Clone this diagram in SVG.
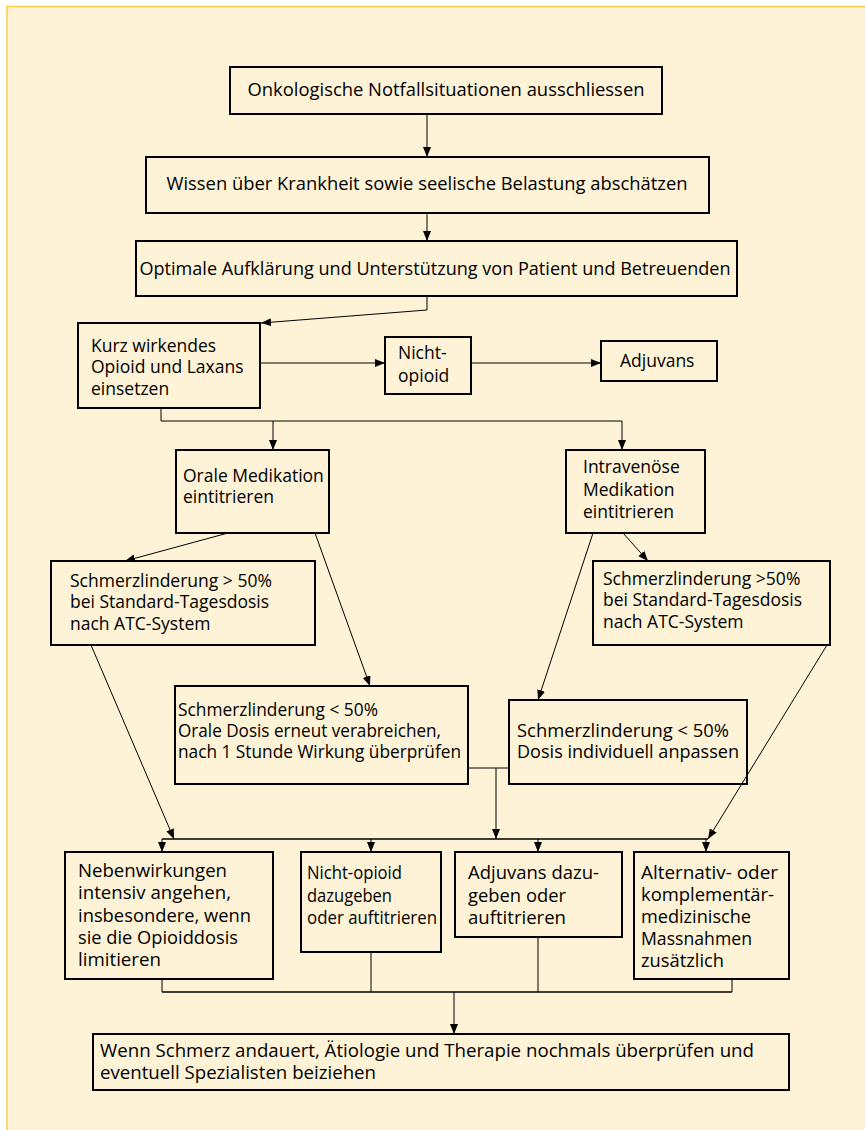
<svg xmlns="http://www.w3.org/2000/svg" width="865" height="1130" viewBox="0 0 865 1130">
<style>
.box{fill:none;stroke:#000;stroke-width:2}
.ln{fill:none;stroke:#000;stroke-width:1}
.bar{fill:none;stroke:#000;stroke-width:1.5}
.t{font-family:"Open Sans","Noto Sans","DejaVu Sans",sans-serif;font-size:17.5px;fill:#000}
.c{font-family:"Open Sans","Noto Sans","DejaVu Sans",sans-serif;font-size:17.5px;fill:#000}
.m{text-anchor:middle}
</style>
<defs>
<marker id="ah" markerUnits="userSpaceOnUse" markerWidth="11" markerHeight="9" refX="10" refY="4" orient="auto">
<path d="M0,0 L10,4 L0,8 z" fill="#000"/>
</marker>
</defs>
<rect x="0" y="0" width="865" height="1130" fill="#ffffff"/>
<rect x="7" y="6" width="858" height="1124" fill="#FEF3D7"/>
<line x1="6" y1="6.5" x2="865" y2="6.5" stroke="#F8CE46" stroke-width="1.5"/>
<line x1="7" y1="6" x2="7" y2="1130" stroke="#F8CE46" stroke-width="1.5"/>

<g id="connectors">
<line class="ln" x1="427" y1="114" x2="427" y2="157" marker-end="url(#ah)"/>
<line class="ln" x1="427" y1="213" x2="427" y2="241" marker-end="url(#ah)"/>
<polyline class="ln" points="427,296 427,310 261,323" marker-end="url(#ah)"/>
<line class="ln" x1="260" y1="363" x2="385" y2="363" marker-end="url(#ah)"/>
<line class="ln" x1="471" y1="363" x2="601" y2="363" marker-end="url(#ah)"/>
<polyline class="ln" points="161,408 161,421 622,421 622,450" marker-end="url(#ah)"/>
<line class="ln" x1="273" y1="421" x2="273" y2="450" marker-end="url(#ah)"/>
<line class="ln" x1="228" y1="533" x2="125" y2="561" marker-end="url(#ah)"/>
<line class="ln" x1="315" y1="533" x2="370" y2="686" marker-end="url(#ah)"/>
<line class="ln" x1="623" y1="533" x2="648" y2="561" marker-end="url(#ah)"/>
<line class="ln" x1="593" y1="533" x2="538" y2="700" marker-end="url(#ah)"/>
<line class="ln" x1="91" y1="645" x2="174" y2="839" marker-end="url(#ah)"/>
<line class="ln" x1="827" y1="645" x2="708" y2="839" marker-end="url(#ah)"/>
<line class="ln" x1="468" y1="768" x2="509" y2="768"/>
<line class="ln" x1="496" y1="768" x2="496" y2="839" marker-end="url(#ah)"/>
<line class="bar" x1="162" y1="839" x2="708" y2="839"/>
<line class="ln" x1="162" y1="839" x2="162" y2="852" marker-end="url(#ah)"/>
<line class="ln" x1="371" y1="839" x2="371" y2="852" marker-end="url(#ah)"/>
<line class="ln" x1="538" y1="839" x2="538" y2="852" marker-end="url(#ah)"/>
<line class="ln" x1="706" y1="839" x2="706" y2="852" marker-end="url(#ah)"/>
<line class="ln" x1="162" y1="979" x2="162" y2="992"/>
<line class="ln" x1="371" y1="952" x2="371" y2="992"/>
<line class="ln" x1="538" y1="937" x2="538" y2="992"/>
<line class="ln" x1="732" y1="979" x2="732" y2="992"/>
<line class="bar" x1="162" y1="992" x2="732" y2="992"/>
<line class="ln" x1="454" y1="992" x2="454" y2="1034" marker-end="url(#ah)"/>
</g>

<g id="n1"><rect class="box" x="230" y="67" width="432" height="47"/>
<text class="c m" x="446" y="96" textLength="397" lengthAdjust="spacingAndGlyphs">Onkologische Notfallsituationen ausschliessen</text></g>

<g id="n2"><rect class="box" x="146" y="157" width="563" height="56"/>
<text class="t m" x="427" y="190" textLength="521" lengthAdjust="spacingAndGlyphs">Wissen über Krankheit sowie seelische Belastung abschätzen</text></g>

<g id="n3"><rect class="box" x="136" y="241" width="601" height="55"/>
<text class="t m" x="435" y="275" textLength="591" lengthAdjust="spacingAndGlyphs">Optimale Aufklärung und Unterstützung von Patient und Betreuenden</text></g>

<g id="n4"><rect class="box" x="78" y="323" width="182" height="85"/>
<text class="t" x="91" y="352">Kurz wirkendes</text>
<text class="t" x="91" y="373">Opioid und Laxans</text>
<text class="t" x="91" y="395">einsetzen</text></g>

<g id="n5"><rect class="box" x="385" y="337" width="86" height="57"/>
<text class="t" x="398" y="359">Nicht-</text>
<text class="t" x="398" y="382">opioid</text></g>

<g id="n6"><rect class="box" x="601" y="341" width="116" height="40"/>
<text class="t" x="620" y="367">Adjuvans</text></g>

<g id="n7"><rect class="box" x="176" y="450" width="153" height="83"/>
<text class="t" x="183" y="482">Orale Medikation</text>
<text class="t" x="183" y="503">eintitrieren</text></g>

<g id="n8"><rect class="box" x="566" y="450" width="139" height="83"/>
<text class="t" x="583" y="473">Intravenöse</text>
<text class="t" x="583" y="496">Medikation</text>
<text class="t" x="583" y="518">eintitrieren</text></g>

<g id="n9"><rect class="box" x="51" y="561" width="264" height="84"/>
<text class="t" x="70" y="587">Schmerzlinderung &gt; 50%</text>
<text class="t" x="70" y="608">bei Standard-Tagesdosis</text>
<text class="t" x="70" y="630">nach ATC-System</text></g>

<g id="n10"><rect class="box" x="593" y="561" width="237" height="84"/>
<text class="t" x="603" y="585">Schmerzlinderung &gt;50%</text>
<text class="t" x="603" y="606">bei Standard-Tagesdosis</text>
<text class="t" x="603" y="628">nach ATC-System</text></g>

<g id="n11"><rect class="box" x="175" y="686" width="293" height="98"/>
<text class="c" x="178" y="716" textLength="200" lengthAdjust="spacingAndGlyphs">Schmerzlinderung &lt; 50%</text>
<text class="c" x="178" y="737" textLength="263" lengthAdjust="spacingAndGlyphs">Orale Dosis erneut verabreichen,</text>
<text class="c" x="178" y="758" textLength="283" lengthAdjust="spacingAndGlyphs">nach 1 Stunde Wirkung überprüfen</text></g>

<g id="n12"><rect class="box" x="509" y="700" width="238" height="84"/>
<text class="c" x="517" y="737" textLength="212" lengthAdjust="spacingAndGlyphs">Schmerzlinderung &lt; 50%</text>
<text class="c" x="517" y="758" textLength="222" lengthAdjust="spacingAndGlyphs">Dosis individuell anpassen</text></g>

<g id="n13"><rect class="box" x="65" y="852" width="208" height="127"/>
<text class="c" x="78" y="877" textLength="149" lengthAdjust="spacingAndGlyphs">Nebenwirkungen</text>
<text class="c" x="78" y="899" textLength="153" lengthAdjust="spacingAndGlyphs">intensiv angehen,</text>
<text class="c" x="78" y="922" textLength="173" lengthAdjust="spacingAndGlyphs">insbesondere, wenn</text>
<text class="c" x="78" y="944" textLength="160" lengthAdjust="spacingAndGlyphs">sie die Opioiddosis</text>
<text class="c" x="78" y="966" textLength="83" lengthAdjust="spacingAndGlyphs">limitieren</text></g>

<g id="n14"><rect class="box" x="301" y="852" width="140" height="100"/>
<text class="c" x="307" y="879" textLength="95" lengthAdjust="spacingAndGlyphs">Nicht-opioid</text>
<text class="c" x="307" y="902" textLength="85" lengthAdjust="spacingAndGlyphs">dazugeben</text>
<text class="c" x="307" y="924" textLength="130" lengthAdjust="spacingAndGlyphs">oder auftitrieren</text></g>

<g id="n15"><rect class="box" x="455" y="852" width="167" height="85"/>
<text class="c" x="468" y="879" textLength="131" lengthAdjust="spacingAndGlyphs">Adjuvans dazu-</text>
<text class="c" x="468" y="902" textLength="98" lengthAdjust="spacingAndGlyphs">geben oder</text>
<text class="c" x="468" y="924" textLength="98" lengthAdjust="spacingAndGlyphs">auftitrieren</text></g>

<g id="n16"><rect class="box" x="634" y="852" width="155" height="127"/>
<text class="c" x="641" y="879" textLength="137" lengthAdjust="spacingAndGlyphs">Alternativ- oder</text>
<text class="c" x="641" y="901" textLength="133" lengthAdjust="spacingAndGlyphs">komplementär-</text>
<text class="c" x="641" y="923" textLength="110" lengthAdjust="spacingAndGlyphs">medizinische</text>
<text class="c" x="641" y="945" textLength="111" lengthAdjust="spacingAndGlyphs">Massnahmen</text>
<text class="c" x="641" y="967" textLength="83" lengthAdjust="spacingAndGlyphs">zusätzlich</text></g>

<g id="n17"><rect class="box" x="93" y="1034" width="696" height="56"/>
<text class="c" x="100" y="1057" textLength="654" lengthAdjust="spacingAndGlyphs">Wenn Schmerz andauert, Ätiologie und Therapie nochmals überprüfen und</text>
<text class="c" x="100" y="1079" textLength="276" lengthAdjust="spacingAndGlyphs">eventuell Spezialisten beiziehen</text></g>
</svg>
